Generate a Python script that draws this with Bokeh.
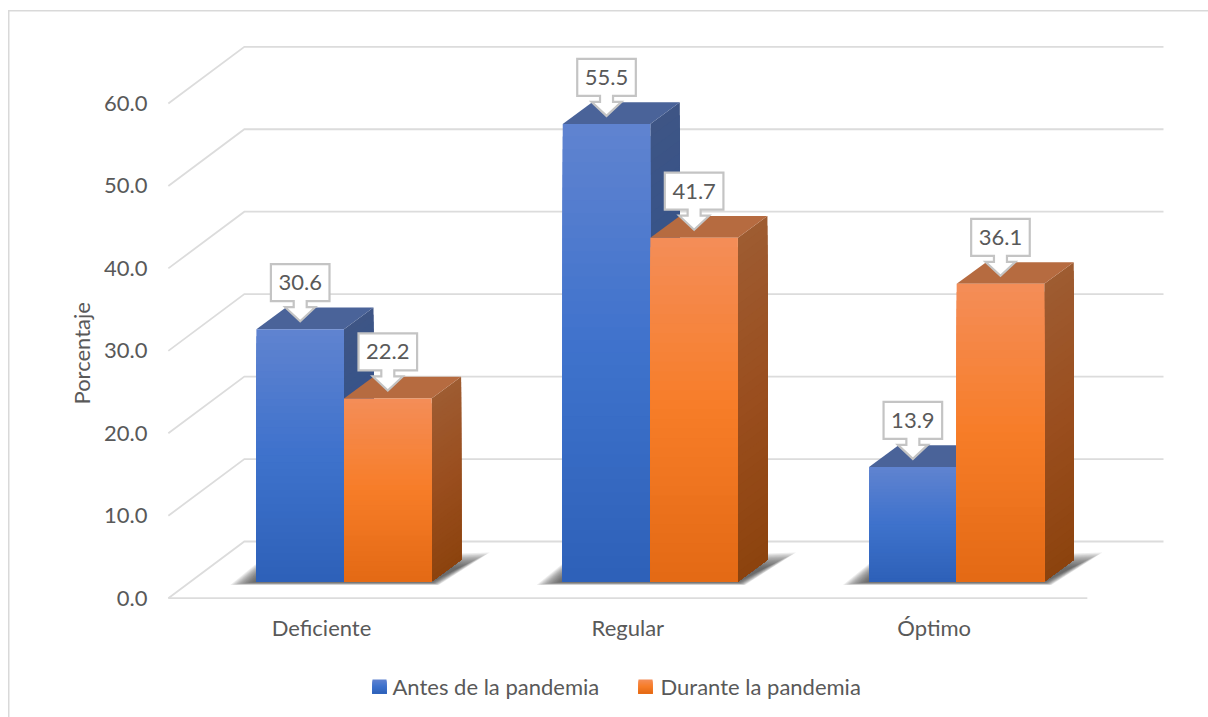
from bokeh.plotting import figure
from bokeh.layouts import column
from bokeh.models import FixedTicker, Range1d, Title
from bokeh.embed import file_html
from bokeh.resources import INLINE
from bokeh.core.properties import value as val

# ---- data
categories = ["Deficiente", "Regular", "Óptimo"]
antes = [30.6, 55.5, 13.9]
durante = [22.2, 41.7, 36.1]
series_names = ["Antes de la pandemia", "Durante la pandemia"]
y_ticks = [0, 10, 20, 30, 40, 50, 60]
y_title = "Porcentaje"

# ---- scale of the pseudo 3D projection
PX_PER_VALUE = 8.245
PX_PER_CAT = 306.33
FRAME_L, FRAME_R, FRAME_T, FRAME_B = 150, 1208, 0, 612      # page pixels
ZERO_Y, CAT0_X = 597.7, 321.0                               # page pixels
LEGEND_TOP = 650                                            # page pixels
def dx(px): return px / PX_PER_CAT
def dy(px): return px / PX_PER_VALUE

FONT = "Lato"
TEXT = "#595959"
GRID = "#dcdcdc"
EDGE = "linear-gradient(#d9d9d9,#d9d9d9)"

p = figure(width=1208, height=LEGEND_TOP, output_backend="svg", toolbar_location=None,
           frame_width=FRAME_R - FRAME_L, frame_height=FRAME_B - FRAME_T,
           min_border_left=FRAME_L, min_border_right=0, min_border_top=0,
           min_border_bottom=LEGEND_TOP - FRAME_B,
           x_range=Range1d((FRAME_L - CAT0_X) / PX_PER_CAT, (FRAME_R - CAT0_X) / PX_PER_CAT),
           y_range=Range1d((ZERO_Y - FRAME_B) / PX_PER_VALUE, (ZERO_Y - FRAME_T) / PX_PER_VALUE))
p.outline_line_color = None
p.background_fill_color = None
p.border_fill_color = None
p.grid.visible = False
# chart-area border lies outside the plot frame
p.styles = {"background": f"{EDGE} 8px 10px/1.5px {LEGEND_TOP}px no-repeat,"
                          f"{EDGE} 8px 10px/1200px 1.5px no-repeat"}

# ---- axes
ya = p.yaxis[0]
ya.ticker = FixedTicker(ticks=y_ticks)
ya.major_label_overrides = {t: f"{t:.1f}" for t in y_ticks}
ya.major_label_standoff = 3
xa = p.xaxis[0]
xa.ticker = FixedTicker(ticks=list(range(len(categories))))
xa.major_label_overrides = {i: c for i, c in enumerate(categories)}
xa.major_label_standoff = 1
for a in (ya, xa):
    a.axis_line_color = None
    a.major_tick_line_color = None
    a.minor_tick_line_color = None
    a.major_tick_out = 0
    a.major_tick_in = 0
    a.major_label_text_font = FONT
    a.major_label_text_font_size = "22px"
    a.major_label_text_color = TEXT
p.add_layout(Title(text=y_title, align="left", offset=208, standoff=14, text_font=FONT,
                   text_font_style="normal", text_font_size="22px", text_color=TEXT), "left")

# ---- walls
WALL_DX, WALL_DY = dx(76), dy(56.7)
L = -0.5
R = len(categories) - 0.5
gx, gy = [], []
for t in y_ticks:
    gx.append([L, L + WALL_DX, dx(1163 - CAT0_X)])
    gy.append([t, t + WALL_DY, t + WALL_DY])
gx.append([L, R]); gy.append([0, 0])
p.multi_line(gx, gy, line_color=GRID, line_width=1.8, line_join="miter")

# ---- bars
BAR_W = dx(87.6)
GROUP_SHIFT = dx(22.5)
BASE = dy(16.7)
DEPTH_X, DEPTH_Y = dx(29.5), dy(21.7)
N = 36

def lerp(a, b, t):
    return tuple(a[i] + (b[i] - a[i]) * t for i in range(3))
def ramp(stops, t):
    if t <= 0.5:
        c = lerp(stops[0], stops[1], t / 0.5)
    else:
        c = lerp(stops[1], stops[2], (t - 0.5) / 0.5)
    return "#%02x%02x%02x" % tuple(int(round(v)) for v in c)

BLUE_FRONT = [(96, 131, 208), (62, 114, 204), (46, 97, 184)]
BLUE_SIDE = [(62, 85, 133), (50, 82, 140), (40, 75, 135)]
BLUE_TOP = "#4a6399"
ORANGE_FRONT = [(244, 141, 88), (247, 125, 40), (227, 105, 20)]
ORANGE_SIDE = [(158, 92, 50), (154, 78, 30), (140, 67, 14)]
ORANGE_TOP = "#b66b40"

def gradient_polys(x0, x1, v, depth, stops):
    xs, ys, cs = [], [], []
    for k in range(N):
        t = k / N
        level = BASE + v * (1 - t)
        if depth:
            xs.append([x0, x1, x1, x0])
            ys.append([level, level + DEPTH_Y, BASE + DEPTH_Y, BASE])
        else:
            xs.append([x0, x1, x1, x0])
            ys.append([level, level, BASE, BASE])
        cs.append(ramp(stops, (k + .5) / N))
    return xs, ys, cs

def draw_bar(x0, v, front, side, top):
    x1 = x0 + BAR_W
    sx, sy, sc = gradient_polys(x1, x1 + DEPTH_X, v, True, side)
    p.patches(sx, sy, fill_color=sc, line_color=None)
    p.patch([x0, x1, x1 + DEPTH_X, x0 + DEPTH_X],
            [BASE + v, BASE + v, BASE + v + DEPTH_Y, BASE + v + DEPTH_Y], fill_color=top, line_color=None)
    fx, fy, fc = gradient_polys(x0, x1, v, False, front)
    p.patches(fx, fy, fill_color=fc, line_color=None)

for i in range(len(categories)):
    c = i + GROUP_SHIFT
    lft, rgt = c - BAR_W, c + BAR_W
    # floor shadow, soft edge made of nested shapes
    steps = 14
    for s in range(steps):
        g = s / (steps - 1)           # 0 outermost, 1 innermost
        low = BASE - dy(3.5 - 3 * g)
        p.patch([lft - dx(26 - 24 * g), lft + dx(4), rgt + dx(58 - 30 * g), rgt + dx(7 - 7 * g)],
                [low, BASE + dy(21 - 15 * g), BASE + dy(29 - 15 * g), low],
                fill_color="#404040", fill_alpha=0.10, line_color=None)
    draw_bar(lft, antes[i], BLUE_FRONT, BLUE_SIDE, BLUE_TOP)
    draw_bar(c, durante[i], ORANGE_FRONT, ORANGE_SIDE, ORANGE_TOP)

# ---- callouts
cx, cy, lx, ly, lt = [], [], [], [], []
for i in range(len(categories)):
    c = i + GROUP_SHIFT
    for center, v in ((c - BAR_W / 2, antes[i]), (c + BAR_W / 2, durante[i])):
        tip = BASE + v + dy(8)
        hw, sw, aw = dx(29.3), dx(6.5), dx(15)
        cx.append([center - hw, center + hw, center + hw, center + sw, center + sw, center + aw,
                   center, center - aw, center - sw, center - sw, center - hw])
        cy.append([tip + dy(57), tip + dy(57), tip + dy(20), tip + dy(20), tip + dy(14), tip + dy(14),
                   tip, tip + dy(14), tip + dy(14), tip + dy(20), tip + dy(20)])
        lx.append(center); ly.append(tip + dy(38.5)); lt.append(f"{v:.1f}")
p.patches(cx, cy, fill_color="white", line_color="#c4c4c4", line_width=2.2, line_join="miter")
p.text(lx, ly, text=lt, text_align="center", text_baseline="middle", text_font=val(FONT),
       text_font_size="22px", text_color=TEXT)

# ---- legend strip below the plot, in page-pixel units (its frame lines up with the plot's)
lg = figure(width=1208, height=717 - LEGEND_TOP, output_backend="svg", toolbar_location=None,
            x_axis_location=None, y_axis_location=None,
            min_border_left=0, min_border_right=0, min_border_top=0, min_border_bottom=0,
            x_range=Range1d(FRAME_L, FRAME_R), y_range=Range1d(717, LEGEND_TOP))
lg.outline_line_color = None
lg.background_fill_color = None
lg.border_fill_color = None
lg.grid.visible = False
lg.styles = {"background": f"{EDGE} 8px 0/1.5px 100% no-repeat"}
for swatch_x, text_x, name, stops in ((372, 392, series_names[0], BLUE_FRONT),
                                      (638, 660, series_names[1], ORANGE_FRONT)):
    M = 14
    lg.quad(left=[swatch_x] * M, right=[swatch_x + 14] * M,
            top=[679 + k for k in range(M)], bottom=[693] * M,
            fill_color=[ramp(stops, (k + .5) / M) for k in range(M)], line_color=None)
    lg.text([text_x], [686], text=[name], text_align="left", text_baseline="middle",
            text_font=val(FONT), text_font_size="22px", text_color=TEXT)

open("out.html", "w").write(file_html(column(p, lg, spacing=0), INLINE))
